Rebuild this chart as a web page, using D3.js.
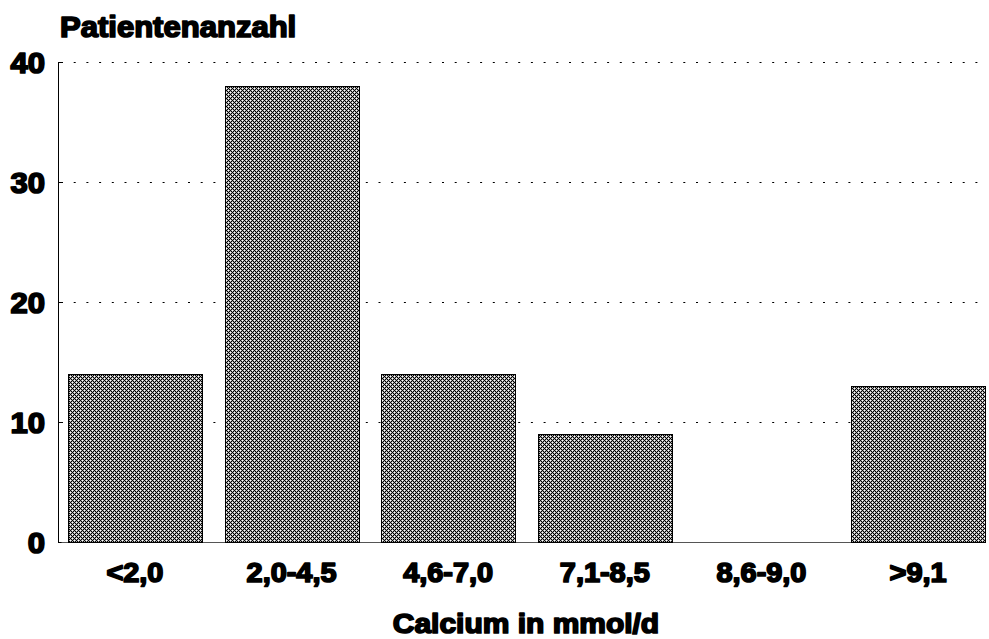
<!DOCTYPE html>
<html>
<head>
<meta charset="utf-8">
<script src="https://cdn.jsdelivr.net/npm/d3@7"></script>
<style>
  body { margin: 0; background: #fff; }
  text { font-family: "Liberation Sans", Arial, sans-serif; font-weight: bold; fill: #000; }
</style>
</head>
<body>
<script>
var width = 989;
var height = 639;

var categories = ["<2,0", "2,0-4,5", "4,6-7,0", "7,1-8,5", "8,6-9,0", ">9,1"];
var counts = [14, 38, 14, 9, 0, 13];
var yTicks = [0, 10, 20, 30, 40];

var svg = d3.select("body").append("svg")
    .attr("width", width)
    .attr("height", height);

// crosshatch fill, 4px tile: black diagonal pixel lines, soft grey edges on the white holes
var defs = svg.append("defs");
var pat = defs.append("pattern")
    .attr("id", "hatch")
    .attr("patternUnits", "userSpaceOnUse")
    .attr("width", 4)
    .attr("height", 4);
pat.append("rect").attr("width", 4).attr("height", 4).attr("fill", "#fff");
var px = [];
for (var yy = 0; yy < 4; yy++) {
    for (var xx = 0; xx < 4; xx++) {
        var onLine = (xx + yy) % 4 === 0 || (xx - yy + 4) % 4 === 0;
        var centre = (xx === 2 && yy === 0) || (xx === 0 && yy === 2);
        if (onLine) px.push([xx, yy, "#000"]);
        else if (!centre) px.push([xx, yy, "#aaa"]);
    }
}
pat.selectAll("rect.px")
    .data(px)
    .enter()
    .append("rect")
    .attr("class", "px")
    .attr("x", function(d) { return d[0]; })
    .attr("y", function(d) { return d[1]; })
    .attr("width", 1).attr("height", 1)
    .attr("fill", function(d) { return d[2]; })
    .attr("shape-rendering", "crispEdges");

var xScale = d3.scaleBand()
    .domain(categories)
    .range([57, 996])
    .paddingInner(0.145)
    .paddingOuter(0.07);

var yScale = d3.scaleLinear()
    .domain([0, 40])
    .range([542, 62]);

// dotted grid
svg.selectAll(".grid")
    .data(yTicks.filter(function(d) { return d > 0; }))
    .enter()
    .append("line")
    .attr("class", "grid")
    .attr("x1", 61).attr("x2", 986)
    .attr("y1", function(d) { return yScale(d) + 0.5; })
    .attr("y2", function(d) { return yScale(d) + 0.5; })
    .attr("stroke", "#000")
    .attr("stroke-width", 1)
    .attr("stroke-dasharray", "2,10.7");

// baseline
svg.append("line")
    .attr("x1", 58).attr("x2", 986)
    .attr("y1", yScale(0) + 0.5).attr("y2", yScale(0) + 0.5)
    .attr("stroke", "#555")
    .attr("stroke-width", 1);

// bars
svg.selectAll(".bar")
    .data(counts)
    .enter()
    .append("rect")
    .attr("class", "bar")
    .attr("x", function(d, i) { return Math.round(xScale(categories[i])) + 0.5; })
    .attr("y", function(d) { return yScale(d) + 0.5; })
    .attr("width", Math.round(xScale.bandwidth()))
    .attr("height", function(d) { return yScale(0) - yScale(d); })
    .attr("fill", "url(#hatch)")
    .attr("stroke", "#000")
    .attr("stroke-width", function(d) { return d === 0 ? 2 : 1; });

// y axis
var yAxis = d3.axisRight(yScale)
    .tickValues(yTicks)
    .tickSize(3)
    .tickFormat("");
svg.append("g")
    .attr("transform", "translate(58.5,0)")
    .call(yAxis)
    .call(function(g) { g.select(".domain").attr("d", "M0," + yScale(40) + "V" + (yScale(0) + 1)); });

// heavy, slightly wide lettering
function heavy(sel, size) {
    sel.attr("font-size", size)
        .attr("stroke", "#000")
        .attr("stroke-width", 1.7)
        .attr("stroke-linejoin", "round")
        .each(function() {
            var w = this.getComputedTextLength();
            d3.select(this)
                .attr("textLength", w * 1.07)
                .attr("lengthAdjust", "spacingAndGlyphs");
        });
}

svg.selectAll(".ylab")
    .data(yTicks)
    .enter()
    .append("text")
    .attr("class", "ylab")
    .attr("x", 45)
    .attr("y", function(d) { return yScale(d) + 11; })
    .attr("text-anchor", "end")
    .text(function(d) { return d; })
    .call(heavy, 29);

// x labels
svg.selectAll(".xlab")
    .data(categories)
    .enter()
    .append("text")
    .attr("class", "xlab")
    .attr("x", function(d) { return xScale(d) + xScale.bandwidth() / 2; })
    .attr("y", 582)
    .attr("text-anchor", "middle")
    .text(function(d) { return d; })
    .call(heavy, 27);

svg.append("text")
    .attr("x", 526)
    .attr("y", 633)
    .attr("text-anchor", "middle")
    .text("Calcium in mmol/d")
    .call(heavy, 28);

svg.append("text")
    .attr("x", 60)
    .attr("y", 37)
    .text("Patientenanzahl")
    .call(heavy, 29);
</script>
</body>
</html>
